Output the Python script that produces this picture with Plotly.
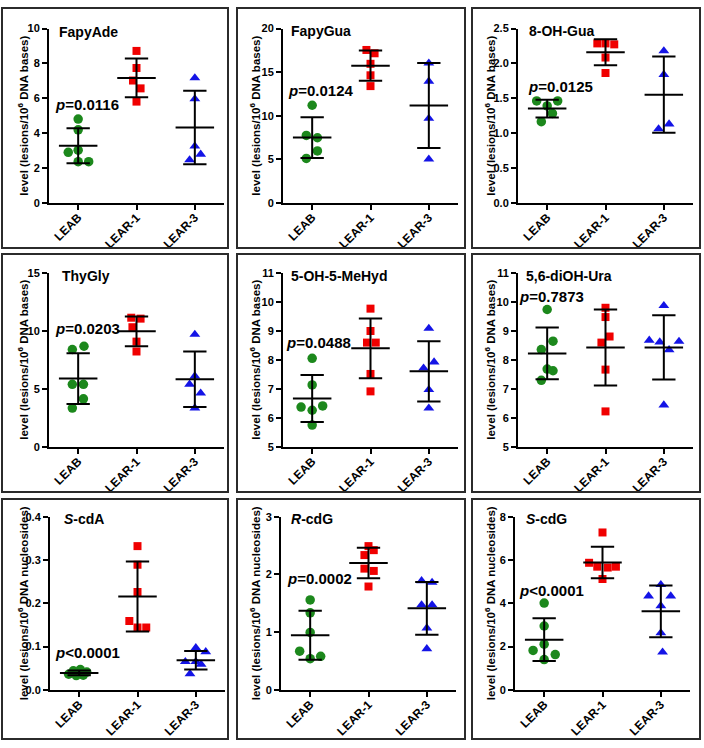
import numpy as np
import plotly.graph_objects as go

# ---------------- data ----------------
groups = ["LEAB", "LEAR-1", "LEAR-3"]

titles = ["FapyAde", "FapyGua", "8-OH-Gua",
          "ThyGly", "5-OH-5-MeHyd", "5,6-diOH-Ura",
          "<i>S</i>-cdA", "<i>R</i>-cdG", "<i>S</i>-cdG"]

p_labels = ["<i>p</i>=0.0116", "<i>p</i>=0.0124", "<i>p</i>=0.0125",
            "<i>p</i>=0.0203", "<i>p</i>=0.0488", "<i>p</i>=0.7873",
            "<i>p</i>&lt;0.0001", "<i>p</i>=0.0002", "<i>p</i>&lt;0.0001"]

ytitle_bases = "level (lesions/10<sup>6</sup> DNA bases)"
ytitle_nucl = "level (lesions/10<sup>6</sup> DNA nucleosides)"

# FapyAde
fapyade_leab = [4.81, 4.19, 3.02, 2.90, 2.36, 2.36]
fapyade_lear1 = [8.72, 7.74, 7.02, 6.57, 5.81]
fapyade_lear3 = [7.17, 5.96, 3.25, 2.46, 2.78]
# FapyGua
fapygua_leab = [11.2, 7.74, 7.47, 5.96, 5.09]
fapygua_lear1 = [17.55, 17.17, 15.96, 14.64, 13.4]
fapygua_lear3 = [16.03, 13.95, 9.69, 5.01]
# 8-OH-Gua
ohgua_leab = [1.462, 1.462, 1.39, 1.283, 1.165]
ohgua_lear1 = [2.288, 2.288, 2.274, 2.085, 1.863]
ohgua_lear3 = [2.18, 1.84, 1.13, 1.06]
# ThyGly
thygly_leab = [8.38, 8.66, 5.38, 5.38, 4.13, 3.34]
thygly_lear1 = [11.12, 11.04, 10.3, 9.06, 8.21]
thygly_lear3 = [9.68, 6.09, 5.38, 4.62, 3.34]
# 5-OH-5-MeHyd
mehyd_leab = [8.05, 7.13, 6.37, 6.41, 6.26, 5.75]
mehyd_lear1 = [9.76, 8.99, 8.59, 8.59, 7.51, 6.91]
mehyd_lear3 = [9.08, 7.92, 7.71, 6.97, 6.33]
# 5,6-diOH-Ura
diohura_leab = [9.73, 8.64, 8.35, 7.68, 7.62, 7.29]
diohura_lear1 = [9.79, 9.47, 8.80, 8.59, 7.66, 6.22]
diohura_lear3 = [9.86, 8.67, 8.61, 8.63, 8.34, 6.44]
# S-cdA
scda_leab = [0.047, 0.044, 0.041, 0.036, 0.034, 0.033]
scda_lear1 = [0.332, 0.289, 0.226, 0.159, 0.144, 0.144]
scda_lear3 = [0.097, 0.088, 0.065, 0.065, 0.059, 0.037]
# R-cdG
rcdg_leab = [1.557, 1.335, 0.994, 0.67, 0.58, 0.54]
rcdg_lear1 = [2.49, 2.42, 2.335, 2.10, 2.06, 1.79]
rcdg_lear3 = [1.89, 1.86, 1.47, 1.47, 1.07, 0.71]
# S-cdG
scdg_leab = [4.01, 2.95, 2.11, 1.82, 1.63, 1.40]
scdg_lear1 = [7.27, 5.87, 5.69, 5.65, 5.69, 5.12]
scdg_lear3 = [4.86, 4.33, 4.33, 3.88, 2.63, 1.74]

# y-axis tick values per panel
yticks_fapyade = [0, 2, 4, 6, 8, 10]
yticks_fapygua = [0, 5, 10, 15, 20]
yticks_ohgua = [0.0, 0.5, 1.0, 1.5, 2.0, 2.5]
yticks_thygly = [0, 5, 10, 15]
yticks_mehyd = [5, 6, 7, 8, 9, 10, 11]
yticks_diohura = [5, 6, 7, 8, 9, 10, 11]
yticks_scda = [0.0, 0.1, 0.2, 0.3, 0.4]
yticks_rcdg = [0, 1, 2, 3]
yticks_scdg = [0, 2, 4, 6, 8]

panel_values = [
    [fapyade_leab, fapyade_lear1, fapyade_lear3],
    [fapygua_leab, fapygua_lear1, fapygua_lear3],
    [ohgua_leab, ohgua_lear1, ohgua_lear3],
    [thygly_leab, thygly_lear1, thygly_lear3],
    [mehyd_leab, mehyd_lear1, mehyd_lear3],
    [diohura_leab, diohura_lear1, diohura_lear3],
    [scda_leab, scda_lear1, scda_lear3],
    [rcdg_leab, rcdg_lear1, rcdg_lear3],
    [scdg_leab, scdg_lear1, scdg_lear3],
]
panel_yticks = [yticks_fapyade, yticks_fapygua, yticks_ohgua,
                yticks_thygly, yticks_mehyd, yticks_diohura,
                yticks_scda, yticks_rcdg, yticks_scdg]

# ---------------- styles / layout ----------------
# horizontal scatter spread of points (category units)
jitter = [
    [[0, 0, 0, -0.17, 0, 0.18], [0, 0, -0.06, 0.07, 0], [0, 0, 0, -0.09, 0.10]],
    [[0, -0.10, 0.09, 0.09, -0.10], [-0.07, 0.07, 0, 0, 0], [0, 0, 0, 0]],
    [[-0.18, 0.18, 0, 0.09, -0.10], [-0.14, 0, 0.15, 0, 0], [0, 0, 0.09, -0.09]],
    [[-0.10, 0.10, -0.10, 0.09, 0.09, -0.10], [-0.09, 0.07, -0.07, 0, 0], [0, 0, -0.09, 0.10, 0]],
    [[0, 0, -0.19, 0.18, 0, 0], [0, 0, -0.06, 0.09, 0, 0], [0, 0.09, -0.09, 0, 0]],
    [[0, 0.10, -0.10, 0, 0.10, -0.10], [0, 0, 0.07, -0.07, 0, 0], [0, -0.25, -0.07, 0.26, 0.09, 0]],
    [[0.02, -0.10, 0.13, -0.18, 0.07, -0.05], [0, 0, 0, -0.14, 0, 0.15], [0, 0.17, -0.18, 0, 0.09, -0.10]],
    [[0, 0, 0, -0.18, 0.18, 0], [0, 0.09, -0.07, -0.07, 0.09, 0], [-0.09, 0.09, -0.09, 0.09, 0, 0]],
    [[0, 0, 0, -0.19, 0.19, 0], [0, -0.23, -0.09, 0.09, 0.23, 0], [0, -0.21, 0.17, 0, 0, 0.03]],
]
tickformats = ["d", "d", ".1f", "d", "d", "d", ".1f", "d", "d"]

colors = ["#1c881c", "#f00000", "#1414e6"]
symbols = ["circle", "square", "triangle-up"]
msizes = [9.5, 8, 9.5]

W, H = 704, 748
plot_w = 175
col_x0 = [[49, 283, 518], [49, 283, 518], [50, 281, 515]]
row_top = [23, 271, 519]
row_bot = [200, 448, 695]
ytitle_x = [23, 255, 490]
title_pos = [(57, 26), (289, 25), (527, 25),
             (60, 274), (289, 274), (524, 274),
             (62, 521), (289, 521), (524, 521)]
p_pos = [(53, 100), (286, 86), (526, 82),
         (53, 328), (284, 342), (517, 295),
         (53, 657), (285, 582), (517, 594)]
border_x = [(2, 228), (237, 465), (472, 700)]
border_y = [(2, 246), (252, 494), (501, 745)]

FONT = "Liberation Sans, Arial, sans-serif"
mean_hw = 0.33
cap_hw = 0.20

fig = go.Figure()
annotations = []
shapes = []

for k in range(9):
    r, c = divmod(k, 3)
    ax = "" if k == 0 else str(k + 1)
    xname, yname = "x" + ax, "y" + ax
    x0 = col_x0[r][c]
    xdom = [x0 / W, (x0 + plot_w) / W]
    ydom = [1 - row_bot[r] / H, 1 - row_top[r] / H]
    yt = panel_yticks[k]

    for g in range(3):
        vals = np.array(panel_values[k][g], dtype=float)
        xs = g + np.array(jitter[k][g], dtype=float)
        m = vals.mean()
        s = vals.std(ddof=1)
        lx = [g - mean_hw, g + mean_hw, None,
              g - cap_hw, g + cap_hw, None,
              g - cap_hw, g + cap_hw, None,
              g, g]
        ly = [m, m, None, m + s, m + s, None, m - s, m - s, None, m - s, m + s]
        fig.add_trace(go.Scatter(
            x=xs, y=vals, mode="markers", xaxis=xname, yaxis=yname,
            marker=dict(symbol=symbols[g], color=colors[g], size=msizes[g],
                        line=dict(width=0)),
            cliponaxis=False, hoverinfo="y", showlegend=False))
        fig.add_trace(go.Scatter(
            x=lx, y=ly, mode="lines", xaxis=xname, yaxis=yname,
            line=dict(color="black", width=2), cliponaxis=False,
            hoverinfo="skip", showlegend=False))

    axis_common = dict(showline=True, linewidth=2, linecolor="black",
                       ticks="outside", ticklen=5, tickwidth=2, tickcolor="black",
                       showgrid=False, zeroline=False, fixedrange=True)
    fig.layout["xaxis" + ax] = dict(
        domain=xdom, anchor=yname, range=[-0.5, 2.5],
        tickmode="array", tickvals=[0, 1, 2], ticktext=groups, tickangle=-45,
        ticklabelstandoff=-4,
        tickfont=dict(family=FONT, size=12, color="black", weight="bold"),
        **axis_common)
    fig.layout["yaxis" + ax] = dict(
        domain=ydom, anchor=xname, range=[yt[0], yt[-1]],
        tickmode="array", tickvals=yt, tickformat=tickformats[k],
        tickfont=dict(family=FONT, size=11, color="black", weight="bold"),
        **axis_common)

    tx, ty = title_pos[k]
    annotations.append(dict(
        text=titles[k], x=tx / W, y=1 - ty / H, xref="paper", yref="paper",
        xanchor="left", yanchor="middle", showarrow=False,
        font=dict(family=FONT, size=14, color="black", weight="bold")))
    px_, py_ = p_pos[k]
    annotations.append(dict(
        text=p_labels[k], x=px_ / W, y=1 - py_ / H, xref="paper", yref="paper",
        xanchor="left", yanchor="middle", showarrow=False,
        font=dict(family=FONT, size=15, color="black", weight="bold")))
    annotations.append(dict(
        text=ytitle_nucl if r == 2 else ytitle_bases,
        x=ytitle_x[c] / W, y=1 - (row_top[r] + row_bot[r]) / 2 / H,
        xref="paper", yref="paper", xanchor="center", yanchor="middle",
        textangle=-90, showarrow=False,
        font=dict(family=FONT, size=11.5, color="black", weight="bold")))
    bx0, bx1 = border_x[c]
    by0, by1 = border_y[r]
    shapes.append(dict(type="rect", xref="paper", yref="paper",
                       x0=bx0 / W, x1=bx1 / W, y0=1 - by1 / H, y1=1 - by0 / H,
                       line=dict(color="#2b2b2b", width=2), fillcolor="rgba(0,0,0,0)"))

fig.update_layout(
    width=W, height=H, margin=dict(l=0, r=0, t=0, b=0),
    paper_bgcolor="white", plot_bgcolor="white", showlegend=False,
    annotations=annotations, shapes=shapes,
    font=dict(family=FONT, color="black"))

fig.write_html("out.html",
               config={"displayModeBar": False},
               post_script="document.body.style.margin='0';document.body.style.padding='0';")
